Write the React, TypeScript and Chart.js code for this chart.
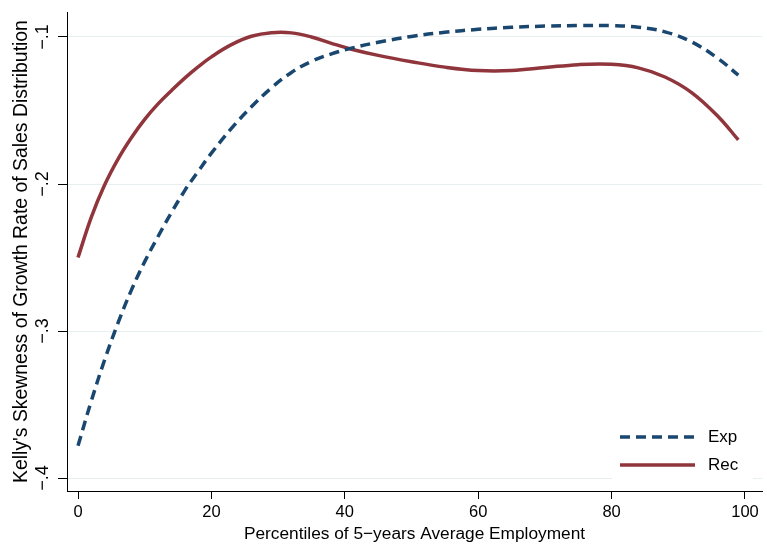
import { useEffect, useRef } from 'react';
import { Chart, registerables } from 'chart.js';

Chart.register(...registerables);

// Percentile grid shared by both fitted curves
const percentiles = [0, 2, 4, 6, 8, 10, 12, 14, 16, 18, 20, 23, 26, 29, 32, 35, 38, 41, 45, 50, 55, 60, 65, 70, 75, 80, 84, 88, 92, 96, 99];

// Kelly's skewness, expansion years
const expValues = [-0.378, -0.3475, -0.3195, -0.2945, -0.2722, -0.2528, -0.2357, -0.2195, -0.2045, -0.1915, -0.179, -0.1622, -0.1475, -0.1346, -0.1241, -0.1166, -0.1115, -0.1076, -0.1036, -0.0996, -0.0968, -0.0948, -0.0934, -0.0926, -0.0922, -0.0923, -0.0933, -0.0965, -0.1033, -0.1148, -0.126];

// Kelly's skewness, recession years
const recValues = [-0.25, -0.2225, -0.2005, -0.183, -0.1685, -0.156, -0.1455, -0.1365, -0.128, -0.1203, -0.1135, -0.1052, -0.0995, -0.0971, -0.0972, -0.1, -0.1043, -0.1083, -0.1125, -0.1168, -0.1205, -0.1228, -0.1228, -0.1208, -0.1188, -0.1186, -0.121, -0.1272, -0.1378, -0.1542, -0.17];

const xTicks = [0, 20, 40, 60, 80, 100];
const xTickLabels = ['0', '20', '40', '60', '80', '100'];
const yTicks = [-0.4, -0.3, -0.2, -0.1];
const yTickLabels = ['\u2212.4', '\u2212.3', '\u2212.2', '\u2212.1'];

const seriesNames = ['Exp', 'Rec'];
const xTitle = 'Percentiles of 5\u2212years Average Employment';
const yTitle = "Kelly's Skewness of Growth Rate of Sales Distribution";

const EXP_COLOR = '#1a476f';
const REC_COLOR = '#90353b';
const FAMILY = '"Liberation Sans", Arial, sans-serif';
const DASH = [10, 6];

const textPlugin = {
  id: 'stataText',
  afterDraw(chart: any) {
    const ctx: CanvasRenderingContext2D = chart.ctx;
    const xs = chart.scales.x;
    const ys = chart.scales.y;
    const area = chart.chartArea;
    ctx.save();
    ctx.fillStyle = '#000';

    // x tick labels
    ctx.font = `16.5px ${FAMILY}`;
    ctx.textAlign = 'center';
    ctx.textBaseline = 'alphabetic';
    xTicks.forEach((v, i) => {
      ctx.fillText(xTickLabels[i], xs.getPixelForValue(v), area.bottom + 26);
    });

    // y tick labels, rotated
    ctx.font = `18px ${FAMILY}`;
    yTicks.forEach((v, i) => {
      ctx.save();
      ctx.translate(area.left - 19, ys.getPixelForValue(v));
      ctx.rotate(-Math.PI / 2);
      ctx.textAlign = 'center';
      ctx.fillText(yTickLabels[i], 0, 0);
      ctx.restore();
    });

    // axis titles
    ctx.font = `17.3px ${FAMILY}`;
    ctx.textAlign = 'center';
    ctx.fillText(xTitle, (area.left + area.right) / 2, area.bottom + 48);
    ctx.font = `19.4px ${FAMILY}`;
    ctx.save();
    ctx.translate(area.left - 40, (area.top + area.bottom) / 2);
    ctx.rotate(-Math.PI / 2);
    ctx.fillText(yTitle, 0, 0);
    ctx.restore();

    // legend inside the plot region
    ctx.font = `17px ${FAMILY}`;
    const lx = area.right - 150;
    const ly = area.bottom - 72;
    ctx.fillStyle = '#fff';
    ctx.fillRect(lx, ly, 141, 64);
    const rows = [
      { name: seriesNames[0], color: EXP_COLOR, dash: DASH, y: ly + 18 },
      { name: seriesNames[1], color: REC_COLOR, dash: [] as number[], y: ly + 46 },
    ];
    rows.forEach((r) => {
      ctx.strokeStyle = r.color;
      ctx.lineWidth = 3.5;
      ctx.setLineDash(r.dash);
      ctx.beginPath();
      ctx.moveTo(lx + 8, r.y);
      ctx.lineTo(lx + 83, r.y);
      ctx.stroke();
      ctx.setLineDash([]);
      ctx.fillStyle = '#000';
      ctx.textAlign = 'left';
      ctx.textBaseline = 'middle';
      ctx.fillText(r.name, lx + 96, r.y);
    });
    ctx.restore();
  },
};

export default function App() {
  const ref = useRef<HTMLCanvasElement>(null);

  useEffect(() => {
    document.body.style.margin = '0';
    const chart = new Chart(ref.current as HTMLCanvasElement, {
      type: 'line',
      data: {
        datasets: [
          {
            label: seriesNames[0],
            data: percentiles.map((p, i) => ({ x: p, y: expValues[i] })),
            borderColor: EXP_COLOR,
            borderWidth: 3.5,
            borderDash: DASH,
            pointRadius: 0,
            tension: 0.4,
            fill: false,
          },
          {
            label: seriesNames[1],
            data: percentiles.map((p, i) => ({ x: p, y: recValues[i] })),
            borderColor: REC_COLOR,
            borderWidth: 3.5,
            pointRadius: 0,
            tension: 0.4,
            fill: false,
          },
        ],
      },
      options: {
        animation: false,
        responsive: false,
        layout: { padding: { left: 0, right: 5, top: 12, bottom: 0 } },
        plugins: { legend: { display: false }, tooltip: { enabled: false } },
        scales: {
          x: {
            type: 'linear',
            min: -1.65,
            max: 102.55,
            afterBuildTicks: (s: any) => {
              s.ticks = xTicks.map((v) => ({ value: v }));
            },
            afterFit: (s: any) => {
              s.height = 54;
            },
            ticks: { display: false },
            grid: { drawOnChartArea: false, tickColor: '#000', tickLength: 8, lineWidth: 1 },
            border: { display: true, color: '#000', width: 1 },
          },
          y: {
            type: 'linear',
            min: -0.4088,
            max: -0.083,
            afterBuildTicks: (s: any) => {
              s.ticks = yTicks.map((v) => ({ value: v }));
            },
            afterFit: (s: any) => {
              s.width = 67;
            },
            ticks: { display: false },
            grid: { color: '#e8eff1', tickColor: '#000', tickLength: 9, lineWidth: 1 },
            border: { display: true, color: '#000', width: 1 },
          },
        },
      },
      plugins: [textPlugin],
    } as any);
    return () => chart.destroy();
  }, []);

  return (
    <div style={{ width: 767, height: 545 }}>
      <canvas ref={ref} width={767} height={545} />
    </div>
  );
}
